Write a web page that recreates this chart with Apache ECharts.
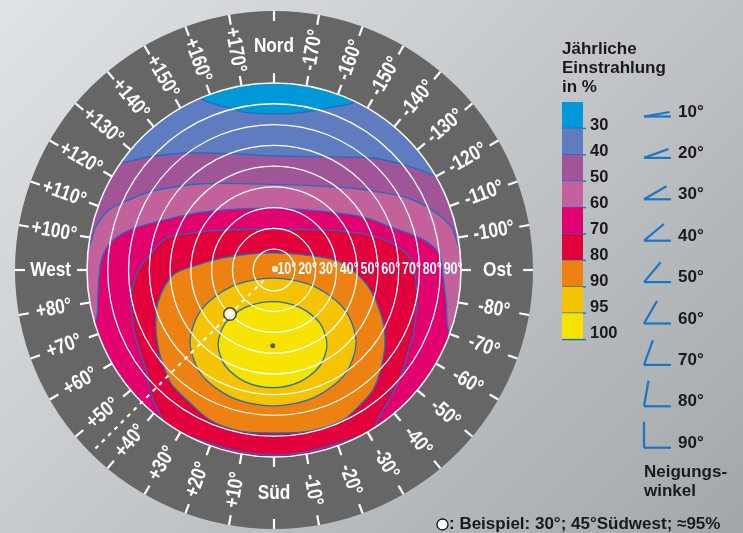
<!DOCTYPE html>
<html><head><meta charset="utf-8">
<script src="https://cdn.jsdelivr.net/npm/echarts@6.0.0/dist/echarts.min.js"></script>
<style>
html,body{margin:0;padding:0;width:743px;height:533px;overflow:hidden;background:linear-gradient(135deg,#e0e3e5 0%,#c3c7ca 50%,#a2a7aa 100%);}
#c{width:743px;height:533px;}
</style>
</head><body><div id="c"></div>
<script>
// ---------- DATA ----------
const levels = ['30', '40', '50', '60', '70', '80', '90', '95', '100'];
const levelColors = ['#0098d9', '#5f7cc0', '#a05598', '#c2619c', '#e2006f', '#e1003c', '#ed8213', '#f6c300', '#f6e300'];

// contour boundaries, tilt-degree plane: x = Ost(+)/West(-), y = Nord(+)/Süd(-)
const b30_40 = [[-35.6,82.8],[-27.0,79.4],[-19.7,77.6],[-14.9,76.0],[0.5,75.1],[14.9,76.0],[27.9,78.4],[38.5,80.9]];
const b40_50 = [[-74.1,52.0],[-60.0,54.5],[-42.8,56.3],[-20.0,56.0],[0.5,54.9],[27.0,54.4],[47.2,53.9],[63.0,50.5],[72.7,47.2],[78.9,45.2]];
const b50_60 = [[-89.5,11.1],[-86.1,20.2],[-80.0,28.5],[-69.3,34.0],[-58.7,38.0],[-34.7,41.5],[0.5,41.2],[31.3,39.9],[44.8,38.5],[63.0,35.1],[76.0,28.9],[85.7,20.2],[90.0,9.6]];
const b60_70 = [[-86.1,-25.0],[-84.7,-10.6],[-83.3,3.9],[-78.9,13.0],[-69.3,19.3],[-58.7,22.6],[-34.7,27.9],[0.5,29.8],[31.3,27.4],[44.8,25.0],[55.3,21.0],[71.2,15.0],[79.4,8.0],[81.3,-2.4],[82.8,-14.9],[84.7,-31.3]];
const b70_80 = [[-51.0,-75.6],[-55.8,-67.4],[-59.7,-57.8],[-61.6,-48.1],[-64.5,-39.5],[-67.4,-28.9],[-68.8,-14.4],[-66.9,-3.9],[-63.5,2.9],[-59.7,7.2],[-54.9,13.0],[-49.1,16.4],[-30.8,18.8],[-16.4,19.5],[0.5,19.7],[17.3,19.5],[31.8,18.8],[47.6,16.4],[57.3,12.5],[63.0,8.7],[66.4,3.9],[68.3,-4.8],[68.8,-14.4],[67.4,-28.9],[64.5,-39.5],[62.1,-48.1],[56.8,-60.2],[51.0,-69.8],[47.2,-77.0],[30.0,-83.8],[10.0,-88.4],[-10.0,-88.4],[-30.0,-83.8]];
const b80_90 = [[-0.5,8.2],[14.9,7.2],[31.8,3.9],[44.8,-7.2],[52.0,-23.1],[53.4,-36.1],[51.0,-49.1],[47.6,-57.8],[41.4,-65.0],[33.2,-72.2],[17.3,-77.5],[0.5,-78.4],[-16.4,-77.5],[-30.8,-72.2],[-41.9,-62.6],[-49.1,-55.3],[-51.5,-50.5],[-54.9,-40.9],[-56.8,-27.9],[-55.8,-15.4],[-48.6,-2.4],[-37.1,2.4],[-24.5,5.8],[-11.6,7.7]];
const b90_95 = [[39.5,-34.7],[34.2,-19.3],[19.5,-8.0],[-0.5,-3.9],[-20.5,-8.0],[-35.1,-19.3],[-40.4,-34.7],[-35.1,-50.1],[-20.5,-61.3],[-0.5,-65.5],[19.5,-61.3],[34.2,-50.1]];
const b95_100 = [[25.5,-35.9],[22.0,-25.5],[12.4,-18.0],[-0.7,-15.2],[-13.8,-18.0],[-23.4,-25.5],[-26.9,-35.9],[-23.4,-46.2],[-13.8,-53.8],[-0.7,-56.6],[12.4,-53.8],[22.0,-46.2]];
const boundaries = [b30_40, b40_50, b50_60, b60_70, b70_80, b80_90, b90_95, b95_100];
const boundaryOpen = [true, true, true, true, false, false, false, false];

const tiltCircles = [10, 20, 30, 40, 50, 60, 70, 80];
const tiltLabelValues = [10, 20, 30, 40, 50, 60, 70, 80, 90];
const tiltLabels = ['10°', '20°', '30°', '40°', '50°', '60°', '70°', '80°', '90°'];
const diskTilt = 90;

const azimuths = [0, 10, 20, 30, 40, 50, 60, 70, 80, 90, 100, 110, 120, 130, 140, 150, 160, 170, 180,
                  -170, -160, -150, -140, -130, -120, -110, -100, -90, -80, -70, -60, -50, -40, -30, -20, -10];
const azimuthLabels = ['Süd', '+10°', '+20°', '+30°', '+40°', '+50°', '+60°', '+70°', '+80°', 'West',
                  '+100°', '+110°', '+120°', '+130°', '+140°', '+150°', '+160°', '+170°', 'Nord',
                  '-170°', '-160°', '-150°', '-140°', '-130°', '-120°', '-110°', '-100°', 'Ost',
                  '-80°', '-70°', '-60°', '-50°', '-40°', '-30°', '-20°', '-10°'];
const cardinals = ['Süd', 'West', 'Nord', 'Ost'];

const exampleTilt = 30, exampleAzimuth = 45;
const exampleLine = [[7, 45], [123, 45]];
const optimumPoint = [-0.6, -36.4];
const zeroPoint = [0.5, 0.5];

const legendTitle = ['Jährliche', 'Einstrahlung', 'in %'];
const tiltLegend = [10, 20, 30, 40, 50, 60, 70, 80, 90];
const tiltLegendLabels = ['10°', '20°', '30°', '40°', '50°', '60°', '70°', '80°', '90°'];
const tiltLegendTitle = ['Neigungs-', 'winkel'];
const exampleNote = ': Beispiel: 30°; 45°Südwest; ≈95%';

// ---------- HELPERS ----------
const RMAX = 124.65;           // radius axis max (ring outer edge)
const RING_MID = 107.5;
const sans = "'Liberation Sans',Arial,sans-serif";
const contourBlue = '#1b6fbe';

function closeThroughSouth(pts) {
  const first = pts[0], last = pts[pts.length - 1];
  const a1 = Math.atan2(last[1], last[0]);
  let a2 = Math.atan2(first[1], first[0]);
  while (a2 > a1) a2 -= 2 * Math.PI;
  const out = pts.slice();
  const n = Math.ceil((a1 - a2) / (5 * Math.PI / 180));
  for (let i = 0; i <= n; i++) {
    const a = a1 - (a1 - a2) * i / n;
    out.push([100 * Math.cos(a), 100 * Math.sin(a)]);
  }
  return out;
}
function dist(p, q) { return Math.hypot(p[0] - q[0], p[1] - q[1]); }

// ---------- LEGEND GRAPHICS ----------
const g = [];
legendTitle.forEach((t, i) => g.push({type: 'text', x: 562, y: 49 + 19.2 * i,
  style: {text: t, fill: '#1a1a1a', fontSize: 17, fontWeight: 'bold', fontFamily: sans, align: 'left', verticalAlign: 'middle'}}));
levels.forEach((lv, i) => {
  const y0 = 102 + 26.4 * i;
  g.push({type: 'rect', shape: {x: 562, y: y0, width: 21, height: 26.4}, style: {fill: levelColors[i]}});
  g.push({type: 'line', shape: {x1: 562, y1: y0 + 26.4, x2: 586, y2: y0 + 26.4}, style: {stroke: contourBlue, lineWidth: 1.4}});
  g.push({type: 'text', x: 590, y: 125 + 26 * i,
    style: {text: lv, fill: '#1a1a1a', fontSize: 16.5, fontWeight: 'bold', fontFamily: sans, align: 'left', verticalAlign: 'middle'}});
});
tiltLegend.forEach((t, i) => {
  const by = 116.5 + 41.4 * i, x0 = 644, L = 26, a = t * Math.PI / 180;
  g.push({type: 'line', shape: {x1: x0, y1: by, x2: x0 + 27, y2: by}, style: {stroke: '#1b74c5', lineWidth: 2.2}});
  g.push({type: 'line', shape: {x1: x0, y1: by, x2: x0 + L * Math.cos(a), y2: by - L * Math.sin(a)}, style: {stroke: '#1b74c5', lineWidth: 2.2}});
  g.push({type: 'text', x: 678, y: by - 4.5,
    style: {text: tiltLegendLabels[i], fill: '#1a1a1a', fontSize: 17, fontWeight: 'bold', fontFamily: sans, align: 'left', verticalAlign: 'middle'}});
});
tiltLegendTitle.forEach((t, i) => g.push({type: 'text', x: 644, y: 472 + 19 * i,
  style: {text: t, fill: '#1a1a1a', fontSize: 17, fontWeight: 'bold', fontFamily: sans, align: 'left', verticalAlign: 'middle'}}));
g.push({type: 'circle', shape: {cx: 442.5, cy: 524.5, r: 5.5}, style: {fill: '#fff', stroke: '#111', lineWidth: 1.3}});
g.push({type: 'text', x: 449, y: 524.5,
  style: {text: exampleNote, fill: '#1a1a1a', fontSize: 17, fontWeight: 'bold', fontFamily: sans, align: 'left', verticalAlign: 'middle'}});

// ---------- CHART ----------
const chart = echarts.init(document.getElementById('c'), null, {renderer: 'canvas'});
chart.setOption({
  backgroundColor: 'transparent',
  animation: false,
  grid: {left: 87, top: 83, width: 374, height: 374, containLabel: false},
  xAxis: {type: 'value', min: -90, max: 90, show: false},
  yAxis: {type: 'value', min: -90, max: 90, show: false},
  polar: {center: [274, 270], radius: 259},
  radiusAxis: {type: 'value', min: 0, max: RMAX, show: false},
  angleAxis: {type: 'value', min: -180, max: 180, startAngle: 90, clockwise: true, show: false},
  graphic: {elements: g},
  series: [
    { // disk base
      type: 'custom', coordinateSystem: 'polar', z: 1, silent: true, clip: false,
      data: [[diskTilt, 0]],
      renderItem: (p, api) => {
        const c = api.coord([0, 0]), e = api.coord([api.value(0), 0]);
        return {type: 'circle', shape: {cx: c[0], cy: c[1], r: dist(c, e)}, style: {fill: levelColors[0]}};
      }
    },
    { // contour regions
      type: 'custom', coordinateSystem: 'cartesian2d', z: 2, silent: true, clip: false,
      data: boundaries.map((b, i) => [0, 0, i]),
      renderItem: (p, api) => {
        const i = api.value(2);
        const pts = boundaryOpen[i] ? closeThroughSouth(boundaries[i]) : boundaries[i];
        return {type: 'polygon', shape: {points: pts.map(q => api.coord(q)), smooth: 0.3},
          style: {fill: levelColors[i + 1], stroke: contourBlue, lineWidth: 1.3}};
      }
    },
    { // tilt circles
      type: 'custom', coordinateSystem: 'polar', z: 3, silent: true, clip: false,
      data: tiltCircles.map(t => [t, 0]),
      renderItem: (p, api) => {
        const c = api.coord([0, 0]), e = api.coord([api.value(0), 0]);
        return {type: 'circle', shape: {cx: c[0], cy: c[1], r: dist(c, e)}, style: {fill: 'none', stroke: '#fff', lineWidth: 1.3}};
      }
    },
    { // ring
      type: 'custom', coordinateSystem: 'polar', z: 4, silent: true, clip: false,
      data: [[diskTilt, 0]],
      renderItem: (p, api) => {
        const c = api.coord([0, 0]), e = api.coord([api.value(0), 0]), o = api.coord([RMAX, 0]);
        return {type: 'ring', shape: {cx: c[0], cy: c[1], r0: dist(c, e), r: dist(c, o)}, style: {fill: '#666666'}};
      }
    },
    { // disk edge (90°)
      type: 'custom', coordinateSystem: 'polar', z: 5, silent: true, clip: false,
      data: [[diskTilt, 0]],
      renderItem: (p, api) => {
        const c = api.coord([0, 0]), e = api.coord([api.value(0), 0]);
        return {type: 'circle', shape: {cx: c[0], cy: c[1], r: dist(c, e)}, style: {fill: 'none', stroke: '#fff', lineWidth: 1.5}};
      }
    },
    { // azimuth ticks + labels
      type: 'custom', coordinateSystem: 'polar', z: 5, silent: true, clip: false,
      data: azimuths.map((a, i) => [RING_MID, a, i]),
      renderItem: (p, api) => {
        const a = api.value(1), idx = api.value(2), label = azimuthLabels[idx];
        const pos = api.coord([RING_MID, a]);
        const o1 = api.coord([RMAX, a]), o2 = api.coord([RMAX - 4.8, a]);
        const i1 = api.coord([diskTilt, a]), i2 = api.coord([diskTilt + 4.8, a]);
        let phi = 270 - a;
        while (phi > 180) phi -= 360;
        while (phi <= -180) phi += 360;
        if (phi > 90) phi -= 180;
        if (phi <= -90) phi += 180;
        const rot = cardinals.indexOf(label) >= 0 ? 0 : phi * Math.PI / 180;
        const ls = {stroke: '#fff', lineWidth: 2.2};
        return {type: 'group', children: [
          {type: 'line', shape: {x1: o1[0], y1: o1[1], x2: o2[0], y2: o2[1]}, style: ls},
          {type: 'line', shape: {x1: i1[0], y1: i1[1], x2: i2[0], y2: i2[1]}, style: ls},
          {type: 'text', x: pos[0], y: pos[1], rotation: rot, scaleX: 0.82,
            style: {text: label, fill: '#fff', fontSize: 21, fontWeight: 'bold', fontFamily: sans, align: 'center', verticalAlign: 'middle'}}
        ]};
      }
    },
    { // example direction (dotted)
      type: 'line', coordinateSystem: 'polar', z: 6, silent: true, symbol: 'none',
      data: exampleLine,
      lineStyle: {color: '#fff', width: 2.2, type: [4, 5]}
    },
    { // tilt labels along the east axis
      type: 'custom', coordinateSystem: 'cartesian2d', z: 6, silent: true, clip: false,
      data: tiltLabelValues.map((t, i) => [t, 0, i]),
      renderItem: (p, api) => {
        const q = api.coord([api.value(0), api.value(1)]);
        return {type: 'text', x: q[0] + 1.5, y: q[1], scaleX: 0.78,
          style: {text: tiltLabels[api.value(2)], fill: '#fff', fontSize: 16, fontWeight: 'bold', fontFamily: sans, align: 'right', verticalAlign: 'middle'}};
      }
    },
    { type: 'scatter', coordinateSystem: 'cartesian2d', z: 7, silent: true, symbol: 'circle', symbolSize: 6.5,
      itemStyle: {color: '#fff'}, data: [zeroPoint] },
    { type: 'scatter', coordinateSystem: 'cartesian2d', z: 7, silent: true, symbol: 'circle', symbolSize: 5,
      itemStyle: {color: '#2b3f86'}, data: [optimumPoint] },
    { type: 'scatter', coordinateSystem: 'polar', z: 8, silent: true, symbol: 'circle', symbolSize: 12.5,
      itemStyle: {color: '#fff', borderColor: '#1a1a1a', borderWidth: 1.5}, data: [[exampleTilt, exampleAzimuth]] }
  ]
});
</script>
</body></html>
